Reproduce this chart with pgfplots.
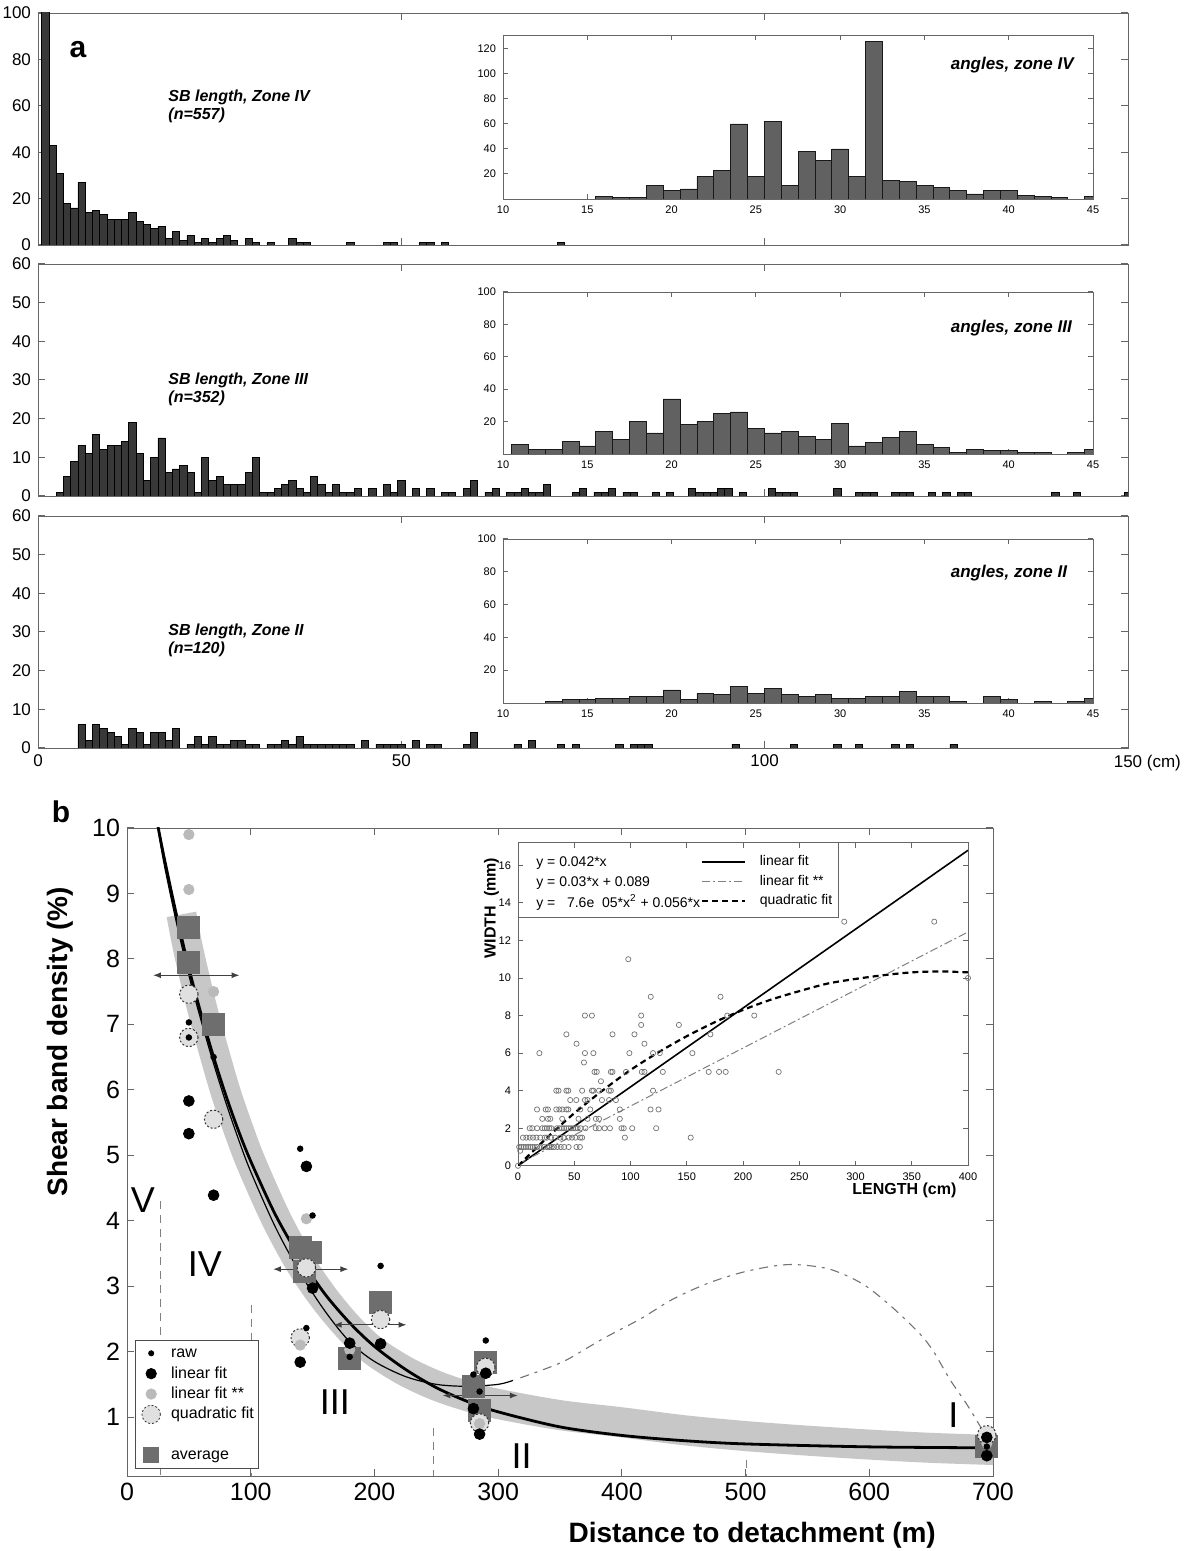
\documentclass[border=0pt]{standalone}
\usepackage{pgfplots}
\pgfplotsset{compat=1.18}
\usepackage{fontspec}
\setmainfont{Liberation Sans}
\usetikzlibrary{arrows.meta}
\pgfplotsset{
 base/.style={scale only axis, anchor=south west, axis line style={black!60}, tick style={black!60, line width=0.5pt}, tick align=inside, /pgf/number format/assume math mode=true, axis background/.style={fill=white}},
 mh/.style={ybar, bar width=1, fill=black!78, draw=black, line width=0.35pt},
 ih/.style={ybar, bar width=1, fill=black!62, draw=black!90, line width=0.35pt},
 amain/.style={base, width=545pt, height=116pt, xmin=0, xmax=150, ymin=0, xtick={0,50,100,150}, major tick length=3.5pt, ticklabel style={font=\fontsize{8.5}{9.5}\selectfont}},
 ains/.style={base, width=295pt, xmin=10, xmax=45, ymin=0, xtick={10,15,...,45}, major tick length=2.5pt, ticklabel style={font=\fontsize{5.5}{6.5}\selectfont}},
}
\begin{document}
\begin{tikzpicture}
\useasboundingbox (0,0) rectangle (594.5pt,775.5pt);

% ---------------- panel a : zone IV ----------------
\begin{axis}[amain, at={(19pt,653pt)}, ymax=100, ytick={0,20,...,100}, xticklabels={}]
\addplot[mh] coordinates {(1,253)(2,43)(3,31)(4,18)(5,16)(6,27)(7,14)(8,15)(9,13)(10,11)(11,11)(12,11)(13,14)(14,10)(15,9)(16,7)(17,8)(18,3)(19,6)(20,2)(21,4)(22,1)(23,3)(24,1)(25,3)(26,4)(27,2)(29,3)(30,1)(32,1)(35,3)(36,1)(37,1)(43,1)(48,1)(49,1)(53,1)(54,1)(56,1)(72,1)};
\node[anchor=west, inner sep=0pt, align=left, font=\fontsize{8}{9}\selectfont\bfseries\itshape] at (axis cs:17.9,59.9) {SB length, Zone IV\\(n=557)};
\end{axis}
\begin{axis}[ains, at={(251.5pt,676pt)}, height=82pt, ymax=131, ytick={20,40,...,120}]
\addplot[ih] coordinates {(16,2)(17,1)(18,1)(19,11)(20,7)(21,8)(22,18)(23,23)(24,60)(25,18)(26,62)(27,11)(28,38)(29,31)(30,40)(31,18)(32,126)(33,15)(34,14)(35,11)(36,9)(37,7)(38,4)(39,7)(40,7)(41,3)(42,2)(43,1)(45,2)};
\node[anchor=west, font=\fontsize{8.5}{10}\selectfont\bfseries\itshape] at (rel axis cs:0.747,0.815) {angles, zone IV};
\end{axis}

% ---------------- panel a : zone III ----------------
\begin{axis}[amain, at={(19pt,527.5pt)}, ymax=60, ytick={0,10,...,60}, xticklabels={}]
\addplot[mh] coordinates {(3,1)(4,5)(5,9)(6,13)(7,11)(8,16)(9,12)(10,13)(11,13)(12,14)(13,19)(14,11)(15,4)(16,10)(17,15)(18,6)(19,7)(20,8)(21,6)(22,1)(23,10)(24,4)(25,5)(26,3)(27,3)(28,3)(29,6)(30,10)(31,1)(32,1)(33,2)(34,3)(35,4)(36,2)(37,1)(38,5)(39,3)(40,1)(41,3)(42,1)(43,1)(44,2)(46,2)(48,3)(49,1)(50,4)(52,2)(54,2)(56,1)(57,1)(59,2)(60,4)(62,1)(63,2)(65,1)(66,1)(67,2)(68,1)(69,1)(70,3)(74,1)(75,2)(77,1)(78,1)(79,2)(81,1)(82,1)(85,1)(87,1)(90,2)(91,1)(92,1)(93,1)(94,2)(95,2)(97,1)(101,2)(102,1)(103,1)(104,1)(110,2)(113,1)(114,1)(115,1)(118,1)(119,1)(120,1)(123,1)(125,1)(127,1)(128,1)(140,1)(143,1)(150,1)};
\node[anchor=west, inner sep=0pt, align=left, font=\fontsize{8}{9}\selectfont\bfseries\itshape] at (axis cs:17.9,27.6) {SB length, Zone III\\(n=352)};
\end{axis}
\begin{axis}[ains, at={(251.5pt,548.5pt)}, height=81pt, ymax=100, ytick={20,40,...,100}]
\addplot[ih] coordinates {(11,6)(12,3)(13,3)(14,8)(15,5)(16,14)(17,9)(18,20)(19,13)(20,34)(21,18)(22,20)(23,25)(24,26)(25,16)(26,13)(27,14)(28,11)(29,9)(30,19)(31,5)(32,7)(33,10)(34,14)(35,6)(36,4)(37,1)(38,3)(39,2)(40,2)(41,1)(42,1)(44,1)(45,3)};
\node[anchor=west, font=\fontsize{8.5}{10}\selectfont\bfseries\itshape] at (rel axis cs:0.747,0.78) {angles, zone III};
\end{axis}

% ---------------- panel a : zone II ----------------
\begin{axis}[amain, at={(19pt,401.5pt)}, ymax=60, ytick={0,10,...,60}, xticklabels={0,50,100,{\hphantom{~(cm)}150~(cm)}}]
\addplot[mh] coordinates {(6,6)(7,2)(8,6)(9,5)(10,4)(11,3)(12,1)(13,5)(14,4)(15,1)(16,4)(17,4)(18,2)(19,5)(21,1)(22,3)(23,1)(24,3)(25,1)(26,1)(27,2)(28,2)(29,1)(30,1)(32,1)(33,1)(34,2)(35,1)(36,3)(37,1)(38,1)(39,1)(40,1)(41,1)(42,1)(43,1)(45,2)(47,1)(48,1)(49,1)(50,1)(52,2)(54,1)(55,1)(59,1)(60,4)(66,1)(68,2)(72,1)(74,1)(80,1)(82,1)(83,1)(84,1)(96,1)(104,1)(110,1)(113,1)(118,1)(120,1)(126,1)};
\node[anchor=west, inner sep=0pt, align=left, font=\fontsize{8}{9}\selectfont\bfseries\itshape] at (axis cs:17.9,27.9) {SB length, Zone II\\(n=120)};
\end{axis}
\begin{axis}[ains, at={(251.5pt,424pt)}, height=82pt, ymax=100, ytick={20,40,...,100}]
\addplot[ih] coordinates {(13,1)(14,2)(15,2)(16,3)(17,3)(18,4)(19,4)(20,8)(21,2)(22,6)(23,5)(24,10)(25,6)(26,9)(27,5)(28,4)(29,5)(30,3)(31,3)(32,4)(33,4)(34,7)(35,4)(36,4)(37,1)(39,4)(40,2)(42,1)(44,1)(45,3)};
\node[anchor=west, font=\fontsize{8.5}{10}\selectfont\bfseries\itshape] at (rel axis cs:0.747,0.79) {angles, zone II};
\end{axis}

\node[font=\fontsize{15}{17}\selectfont\bfseries] at (39pt,750.5pt) {a};
\node[font=\fontsize{15}{17}\selectfont\bfseries] at (30.5pt,369.5pt) {b};

% ---------------- panel b ----------------
\begin{axis}[base, at={(63.5pt,37.5pt)}, width=433pt, height=324pt,
  xmin=0, xmax=700, ymin=0.1, ymax=10, xtick={0,100,...,700}, ytick={1,...,10},
  major tick length=3.5pt, ticklabel style={font=\fontsize{12.5}{14}\selectfont},
  xlabel={Distance to detachment (m)}, ylabel={Shear band density (\%)},
  every axis x label/.style={at={(rel axis cs:0.722,-0.091)}, anchor=center, font=\fontsize{14}{16}\selectfont\bfseries},
  every axis y label/.style={at={(rel axis cs:-0.0774,0.67)}, rotate=90, anchor=center, font=\fontsize{14}{16}\selectfont\bfseries},
  legend image code/.code={\draw[mark repeat=2,mark phase=2,#1] plot coordinates {(0pt,0pt) (6pt,0pt) (12pt,0pt)};},
  legend style={at={(rel axis cs:0.009,0.011)}, anchor=south west, draw=black!70, fill=white, font=\fontsize{8}{9}\selectfont, inner sep=2pt, row sep=1pt, nodes={text height=6.5pt, text depth=2pt, inner sep=0.35pt}, /tikz/every odd column/.append style={column sep=5pt}},
  legend cell align=left]
\addlegendimage{only marks, mark=*, mark size=1.3pt, black}
\addlegendentry{raw}
\addlegendimage{only marks, mark=*, mark size=2.6pt, black}
\addlegendentry{linear fit}
\addlegendimage{only marks, mark=*, mark size=2.6pt, black!27}
\addlegendentry{linear fit **}
\addlegendimage{only marks, mark=*, mark size=4.6pt, mark options={fill=black!12, draw=black!80, dash pattern=on 1pt off 1pt}}
\addlegendentry{quadratic fit}
\addlegendimage{empty legend}
\addlegendentry{}
\addlegendimage{only marks, mark=square*, mark size=3.75pt, black!57}
\addlegendentry{average}
% grey band
\addplot[black!22, line width=15pt, line join=round, smooth, forget plot] coordinates {(44,8.68)(50,8.1)(60,7.3)(70,6.6)(80,5.95)(90,5.4)(100,4.9)(120,4.05)(140,3.35)(160,2.8)(180,2.35)(200,2.0)(225,1.7)(250,1.48)(275,1.32)(300,1.2)(350,1.03)(400,0.92)(450,0.8)(500,0.71)(550,0.64)(600,0.58)(650,0.53)(712,0.49)};
% zone boundaries
\addplot[black!50, line width=0.5pt, dash pattern=on 4pt off 3pt, forget plot] coordinates {(27,4.3)(27,0.1)};
\addplot[black!50, line width=0.5pt, dash pattern=on 4pt off 3pt, forget plot] coordinates {(101,2.72)(101,0.1)};
\addplot[black!50, line width=0.5pt, dash pattern=on 4pt off 3pt, forget plot] coordinates {(248,0.83)(248,0.1)};
\addplot[black!50, line width=0.5pt, dash pattern=on 4pt off 3pt, forget plot] coordinates {(501,0.35)(501,0.1)};
% averages
\addplot[only marks, mark=square*, mark size=5.5pt, black!57, forget plot] coordinates {(50,8.48)(50,7.94)(70,7.0)(140,3.59)(148,3.51)(143,3.23)(205,2.75)(180,1.9)(290,1.83)(280,1.47)(285,1.1)(695,0.55)};
% quadratic fit
\addplot[only marks, mark=*, mark size=4.6pt, mark options={fill=black!12, draw=black!80, line width=0.5pt, dash pattern=on 1pt off 1pt}, forget plot] coordinates {(50,7.46)(50,6.8)(70,5.55)(145,3.28)(205,2.49)(140,2.21)(290,1.76)(285,0.91)(695,0.73)};
% linear fit **
\addplot[only marks, mark=*, mark size=2.6pt, black!27, forget plot] coordinates {(50,9.9)(50,9.06)(70,7.5)(145,4.03)(140,2.1)(180,2.03)(285,0.9)(695,0.6)};
% linear fit
\addplot[only marks, mark=*, mark size=2.7pt, black, forget plot] coordinates {(50,5.83)(50,5.33)(70,4.39)(145,4.83)(150,2.97)(140,1.84)(205,2.12)(180,2.13)(290,1.67)(280,1.13)(285,0.74)(695,0.69)(695,0.41)};
% raw
\addplot[only marks, mark=*, mark size=1.4pt, black, forget plot] coordinates {(50,7.03)(50,6.8)(70,6.5)(140,5.1)(150,4.08)(145,2.36)(205,3.31)(180,1.92)(290,2.17)(280,1.65)(285,1.39)(695,0.55)};
% thin fit and its dashed continuation
\addplot[black, line width=0.6pt, smooth, forget plot] coordinates {(24,10.1)(30,9.45)(40,8.55)(50,7.75)(60,7.05)(70,6.4)(80,5.8)(90,5.25)(100,4.75)(120,3.9)(140,3.2)(160,2.62)(180,2.15)(200,1.85)(225,1.62)(250,1.5)(275,1.47)(300,1.5)(312,1.56)};
\addplot[black!55, line width=0.55pt, dash pattern=on 4.5pt off 3pt on 1.5pt off 3pt, smooth, forget plot] coordinates {(318,1.6)(340,1.75)(356,1.88)(385,2.2)(415,2.5)(441,2.8)(469,3.04)(495,3.2)(520,3.3)(540,3.33)(568,3.26)(595,3.03)(619,2.67)(641,2.27)(652,2.0)(665,1.58)(679,1.19)(690,0.85)(697,0.65)};
% thick fit
\addplot[black, line width=1.4pt, smooth, forget plot] coordinates {(25,10.03)(30,9.55)(40,8.67)(50,7.86)(60,7.15)(70,6.50)(80,5.91)(90,5.38)(100,4.91)(120,4.09)(140,3.43)(160,2.88)(180,2.44)(200,2.08)(225,1.73)(250,1.45)(275,1.24)(300,1.08)(350,0.85)(400,0.72)(450,0.64)(500,0.59)(600,0.545)(700,0.53)};
% horizontal error arrows
\addplot[black!75, line width=0.6pt, {Latex[length=4pt,width=3pt]}-{Latex[length=4pt,width=3pt]}, forget plot] coordinates {(21,7.75)(91,7.75)};
\addplot[black!75, line width=0.6pt, {Latex[length=4pt,width=3pt]}-{Latex[length=4pt,width=3pt]}, forget plot] coordinates {(118,3.26)(179,3.26)};
\addplot[black!75, line width=0.6pt, {Latex[length=4pt,width=3pt]}-{Latex[length=4pt,width=3pt]}, forget plot] coordinates {(167,2.41)(226,2.41)};
\addplot[black!75, line width=0.6pt, {Latex[length=4pt,width=3pt]}-{Latex[length=4pt,width=3pt]}, forget plot] coordinates {(255,1.33)(316,1.33)};
% zone labels
\node[font=\fontsize{18}{20}\selectfont] at (axis cs:12.9,4.32) {V};
\node[font=\fontsize{18}{20}\selectfont] at (axis cs:63,3.34) {IV};
\node[font=\fontsize{18}{20}\selectfont] at (axis cs:168,1.23) {III};
\node[font=\fontsize{18}{20}\selectfont] at (axis cs:319,0.41) {II};
\node[font=\fontsize{18}{20}\selectfont] at (axis cs:668,1.03) {I};
\end{axis}

% ---------------- inset of panel b ----------------
\begin{axis}[base, at={(259pt,192.6pt)}, width=225pt, height=161.5pt,
  xmin=0, xmax=400, ymin=0, ymax=17.2, xtick={0,50,...,400}, ytick={0,2,...,16},
  major tick length=2.5pt, ticklabel style={font=\fontsize{5.5}{6.5}\selectfont},
  xlabel={LENGTH (cm)}, ylabel={WIDTH~~(mm)},
  every axis x label/.style={at={(rel axis cs:0.99,-0.075)}, anchor=east, font=\fontsize{8}{9}\selectfont\bfseries},
  every axis y label/.style={at={(rel axis cs:-0.059,0.798)}, rotate=90, anchor=center, font=\fontsize{8}{9}\selectfont\bfseries},
  legend image code/.code={\draw[#1] (0pt,0pt) -- (21.5pt,0pt);},
  legend style={at={(rel axis cs:0.405,0.968)}, anchor=north west, draw=none, fill=none, font=\fontsize{7}{8}\selectfont, inner sep=0pt, row sep=1.25pt, nodes={text height=5pt, text depth=1.5pt, inner sep=1pt}, /tikz/every odd column/.append style={column sep=6pt}},
  legend cell align=left]
\addplot[black!55, only marks, mark=o, mark size=1.3pt, mark options={line width=0.35pt}, forget plot] coordinates {
(290,13)(370,13)(400,10)(98,11)(118,9)(180,9)(186,8)(210,8)(59.5,8)(65.7,8)(109.5,8)(109.5,7.5)(143,7.5)(43,7)(84,7)(103.5,7)(171,7)(19,6)(52,6.5)(59.5,6)(67,6)(99,6)(112.4,6.5)(120,6)(126,6)(155,6)(58.6,5.5)(68,5)(70,5)(82.5,5)(84,5)(96,5)(110,5)(112.4,5)(128.7,5)(169.5,5)(178.7,5)(184.6,5)(231.7,5)(73.7,4.5)(34,4)(36,4)(43,4)(44.7,4)(57,4)(65.7,4)(67,4)(72,4)(80.8,4)(82.5,4)(120,4)(46.4,3.5)(51.8,3.5)(59.5,3.5)(61.8,3.5)(74.6,3.5)(81,3.5)(87,3.5)(16.9,3)(24.6,3)(26.6,3)(34,3)(36.7,3)(39.3,3)(43,3)(44.7,3)(55.3,3)(64.2,3)(90.5,3)(117.8,3)(124.9,3)(21.6,2.5)(26.6,2.5)(28.7,2.5)(39.3,2.5)(53.8,2.5)(61.8,2.5)(69.2,2.5)(72,2.5)(90.5,2.5)
(10.4,2)(12.7,2)(17,2)(21.6,2)(23.7,2)(25.7,2)(27.8,2)(29.6,2)(34.6,2)(36.7,2)(39,2)(41,2)(43,2)(45,2)(47,2)(49,2)(51,2)(53,2)(55.6,2)(60,2)(69,2)(72,2)(77,2)(81.7,2)(92,2)(94,2)(101.5,2)(122.8,2)
(4.4,1.5)(7.4,1.5)(10.4,1.5)(13.3,1.5)(16.3,1.5)(19.8,1.5)(23.7,1.5)(25.7,1.5)(29.3,1.5)(33,1.5)(37.6,1.5)(40.5,1.5)(45,1.5)(48,1.5)(51,1.5)(55.3,1.5)(57,1.5)(95,1.5)(153.5,1.5)
(1,1)(3,1)(5,1)(7,1)(9,1)(11,1)(13,1)(15,1)(17,1)(20,1)(23,1)(26,1)(28,1)(30,1)(32,1)(35,1)(38,1)(41,1)(45,1)(52,1)(55,1)(0,0)(2,0.8)};
\addplot[black, line width=0.8pt] coordinates {(0,0)(400,16.8)};
\addlegendentry{linear fit}
\addplot[black!50, line width=0.5pt, dash pattern=on 4pt off 1.5pt on 1pt off 1.5pt] coordinates {(0,0.089)(400,12.45)};
\addlegendentry{linear fit **}
\addplot[black, line width=1.1pt, dash pattern=on 3pt off 2pt, smooth] coordinates {(0,0)(25,1.45)(50,2.8)(75,4.0)(100,5.1)(125,6.05)(150,6.9)(175,7.65)(200,8.3)(225,8.85)(250,9.3)(275,9.7)(300,9.95)(325,10.15)(350,10.3)(375,10.35)(400,10.3)};
\addlegendentry{quadratic fit}
\draw[black!60, line width=0.5pt] (rel axis cs:0,1) rectangle (rel axis cs:0.712,0.77);
\node[anchor=west, font=\fontsize{7}{8}\selectfont] at (rel axis cs:0.025,0.937) {y = 0.042*x};
\node[anchor=west, font=\fontsize{7}{8}\selectfont] at (rel axis cs:0.025,0.875) {y = 0.03*x + 0.089};
\node[anchor=west, font=\fontsize{7}{8}\selectfont] at (rel axis cs:0.025,0.816) {y =\ \ \ 7.6e\ \ 05*x\textsuperscript{2} + 0.056*x};
\end{axis}
\end{tikzpicture}
\end{document}
